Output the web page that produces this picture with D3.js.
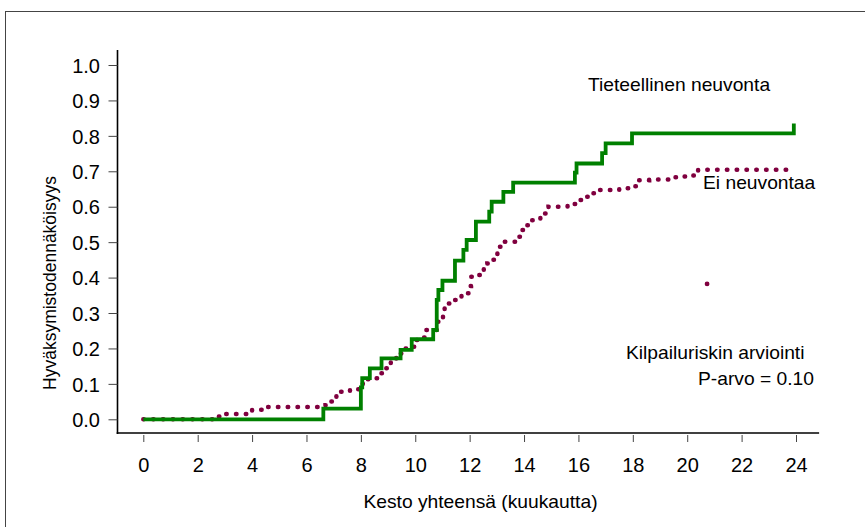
<!DOCTYPE html>
<html><head><meta charset="utf-8">
<script src="https://cdn.jsdelivr.net/npm/d3@7"></script>
<style>
html,body{margin:0;padding:0;background:#fff;}
svg{display:block;font-family:"Liberation Sans",Arial,sans-serif;}
</style></head><body>
<svg id="chart" width="865" height="527"></svg>
<script>
// ---- data ----
const xTicks = [0,2,4,6,8,10,12,14,16,18,20,22,24];
const yTicks = [0,0.1,0.2,0.3,0.4,0.5,0.6,0.7,0.8,0.9,1.0];
const xTitle = "Kesto yhteensä (kuukautta)";
const yTitle = "Hyväksymistodennäköisyys";
const seriesNames = ["Tieteellinen neuvonta","Ei neuvontaa"];
const noteLines = ["Kilpailuriskin arviointi","P-arvo = 0.10"];

// Tieteellinen neuvonta: [month, cumulative probability]
const greenMonths = [0,6.62,8.0,8.05,8.33,8.76,9.46,9.87,10.66,10.79,10.85,11.0,11.46,11.77,11.89,12.23,12.72,12.81,13.24,13.6,15.87,15.93,16.87,17.0,17.97,23.92];
const greenValues = [0,0.03,0.09,0.116,0.144,0.172,0.196,0.226,0.252,0.337,0.365,0.391,0.448,0.478,0.506,0.558,0.586,0.614,0.642,0.668,0.696,0.722,0.751,0.779,0.807,0.835];

// Ei neuvontaa: [month, cumulative probability]
const purpleMonths = [0,2.7,2.9,3.9,4.0,4.5,6.7,6.85,6.95,7.1,7.2,7.6,8.0,8.07,8.25,8.4,8.7,8.85,9.0,9.1,9.3,9.38,9.5,9.7,10.0,10.2,10.35,10.8,10.95,11.02,11.08,11.2,11.38,11.7,11.88,12.0,12.05,12.25,12.4,12.52,12.65,12.78,12.9,13.02,13.15,13.7,13.85,14.05,14.2,14.6,14.75,14.9,15.6,15.95,16.1,16.45,16.65,17.5,17.95,18.2,18.6,19.4,19.8,20.1,20.3,20.4,23.92];
const purpleValues = [0,0.008,0.015,0.02,0.027,0.035,0.04,0.05,0.059,0.073,0.078,0.085,0.09,0.103,0.113,0.116,0.13,0.144,0.158,0.165,0.177,0.186,0.2,0.205,0.224,0.231,0.252,0.275,0.28,0.304,0.313,0.327,0.337,0.351,0.356,0.376,0.402,0.407,0.417,0.431,0.44,0.45,0.457,0.487,0.501,0.515,0.534,0.548,0.562,0.574,0.581,0.6,0.608,0.619,0.628,0.638,0.647,0.652,0.658,0.675,0.677,0.683,0.685,0.688,0.694,0.704,0.704];
// isolated point of the Ei neuvontaa series
const strayMonth = [20.73];
const strayValue = [0.382];

// ---- layout ----
const svg = d3.select("#chart");
const x = d3.scaleLinear().domain([0,24]).range([143.3,796]);
const y = d3.scaleLinear().domain([0,1]).range([419.3,65]);
const axisX0 = 117.5, axisY0 = 433;
const green = "#008000", purple = "#80003f";
const fs = 17.5, sx = 1.1, tickFs = 20;

// border
svg.append("rect").attr("x",5.5).attr("y",11.5).attr("width",880).attr("height",540)
  .attr("fill","none").attr("stroke","#444").attr("stroke-width",1);

// axes lines
svg.append("line").attr("x1",axisX0).attr("x2",axisX0).attr("y1",50).attr("y2",axisY0+1)
  .attr("stroke","#000").attr("stroke-width",1.6);
svg.append("line").attr("x1",axisX0-0.8).attr("x2",x(24.85)).attr("y1",axisY0).attr("y2",axisY0)
  .attr("stroke","#000").attr("stroke-width",1.6);

// y axis
const gy = svg.append("g").attr("transform",`translate(${axisX0},0)`)
  .call(d3.axisLeft(y).tickValues(yTicks).tickSize(9).tickSizeOuter(0).tickFormat(d3.format(".1f")));
gy.select(".domain").remove();
gy.selectAll(".tick line").attr("stroke","#444");
gy.selectAll(".tick text").attr("x",-17.5).attr("dy","0.36em")
  .attr("font-size",tickFs).attr("font-family","Liberation Sans, Arial, sans-serif").attr("fill","#000");

// x axis
const gx = svg.append("g").attr("transform",`translate(0,${axisY0+2})`)
  .call(d3.axisBottom(x).tickValues(xTicks).tickSize(7).tickSizeOuter(0).tickFormat(d3.format("d")));
gx.select(".domain").remove();
gx.selectAll(".tick line").attr("stroke","#444");
gx.selectAll(".tick text").attr("y",471.5-axisY0-2).attr("dy",0)
  .attr("font-size",tickFs).attr("font-family","Liberation Sans, Arial, sans-serif").attr("fill","#000");

// titles
svg.append("text").attr("transform",`translate(480.5,508) scale(${sx},1)`).attr("text-anchor","middle")
  .attr("font-size",fs).text(xTitle);
svg.append("text").attr("transform",`translate(56,283) rotate(-90)`).attr("text-anchor","middle")
  .attr("font-size",fs).text(yTitle);

// series
const line = d3.line().x(d=>x(d[0])).y(d=>y(d[1])).curve(d3.curveStepAfter);
const purpleData = purpleMonths.map((m,i)=>[m,purpleValues[i]]);
const greenData = greenMonths.map((m,i)=>[m,greenValues[i]]);

svg.append("path").datum(purpleData).attr("d",line).attr("fill","none")
  .attr("stroke",purple).attr("stroke-width",4.5).attr("stroke-linecap","round")
  .attr("stroke-dasharray","0.5 9.3");
svg.append("path").datum(greenData).attr("d",line).attr("fill","none")
  .attr("stroke",green).attr("stroke-width",3.8).attr("stroke-linejoin","miter");
svg.selectAll(".stray").data(strayMonth.map((m,i)=>[m,strayValue[i]])).enter()
  .append("ellipse").attr("cx",d=>x(d[0])).attr("cy",d=>y(d[1])).attr("rx",2.4).attr("ry",2.4).attr("fill",purple);

// labels
function label(t,px,py){
  svg.append("text").attr("transform",`translate(${px},${py}) scale(${sx},1)`).attr("font-size",fs).attr("fill","#000").text(t);
}
label(seriesNames[0],588,91);
label(seriesNames[1],703,189);
label(noteLines[0],626,359);
label(noteLines[1],698,385);
</script></body></html>
